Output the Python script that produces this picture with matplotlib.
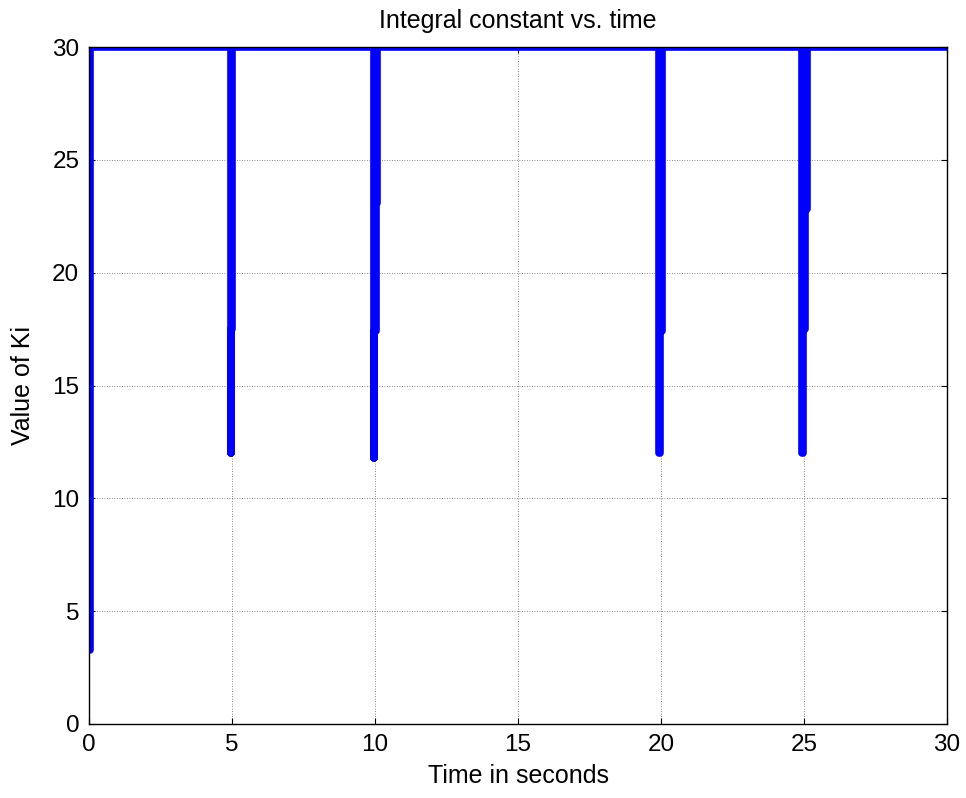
import matplotlib
matplotlib.use("Agg")
import matplotlib.pyplot as plt

plt.rcParams['font.family'] = ['Liberation Sans', 'DejaVu Sans']

# Ki trace: start-up ramp, then the gain drops and recovers around each disturbance
start_time = [0.05, 0.05]
start_ki = [3.3, 30.0]

event5_time = [4.96, 4.96, 4.97, 4.97, 5.01, 5.01]
event5_ki = [30.0, 12.0, 12.0, 17.5, 17.5, 30.0]

event10_time = [9.95, 9.95, 9.97, 9.97, 10.02, 10.02, 10.08, 10.08]
event10_ki = [30.0, 11.8, 11.8, 17.4, 17.4, 23.1, 23.1, 30.0]

event20_time = [19.94, 19.94, 19.98, 19.98, 20.05, 20.05]
event20_ki = [30.0, 12.0, 12.0, 17.4, 17.4, 30.0]

event25_time = [24.93, 24.93, 24.98, 24.98, 25.03, 25.03, 25.11, 25.11]
event25_ki = [30.0, 12.0, 12.0, 17.5, 17.5, 22.8, 22.8, 30.0]

end_time = [30.0]
end_ki = [30.0]

time = start_time + event5_time + event10_time + event20_time + event25_time + end_time
ki = start_ki + event5_ki + event10_ki + event20_ki + event25_ki + end_ki

x_ticks = [0, 5, 10, 15, 20, 25, 30]
y_ticks = [0, 5, 10, 15, 20, 25, 30]

fig = plt.figure(figsize=(9.66, 7.98), dpi=100)
ax = fig.add_axes([89 / 966, 74 / 798, 858 / 966, 677 / 798])

ax.plot(time, ki, color=(0, 0, 1), linewidth=5.5, solid_capstyle='round',
        solid_joinstyle='round')

ax.set_xlim(0, 30)
ax.set_ylim(0, 30)
ax.set_xticks(x_ticks)
ax.set_yticks(y_ticks)
ax.grid(True, color='#666666', linestyle=(0, (1, 2)), linewidth=0.6)
ax.tick_params(direction='in', length=4, width=0.8, top=True, right=True,
               labelsize=17.5, pad=7, colors='black')
for spine in ax.spines.values():
    spine.set_linewidth(1.0)
    spine.set_zorder(3)

ax.set_title('Integral constant vs. time', fontsize=18, pad=14)
ax.set_xlabel('Time in seconds', fontsize=18, labelpad=6)
ax.set_ylabel('Value of Ki', fontsize=18, labelpad=12)

fig.savefig('out.png', dpi=100, facecolor='white')
